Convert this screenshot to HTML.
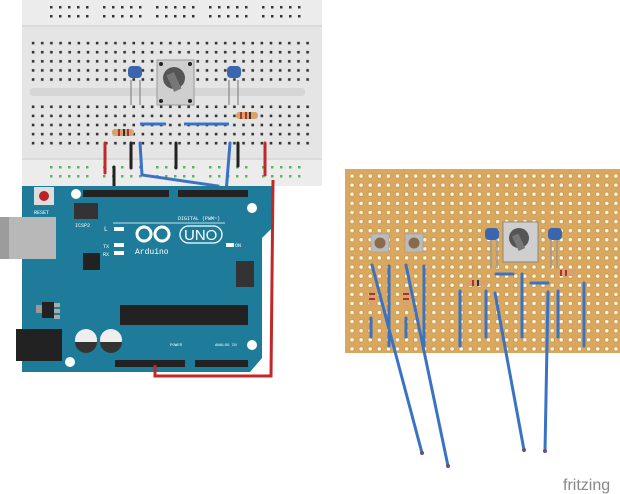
<!DOCTYPE html>
<html><head><meta charset="utf-8"><style>
html,body{margin:0;padding:0;background:#fff;width:620px;height:494px;overflow:hidden}
svg{display:block}
</style></head><body>
<svg width="620" height="494" viewBox="0 0 620 494" xmlns="http://www.w3.org/2000/svg">
<defs>
<pattern id="bbh" x="30" y="40" width="9.15" height="9.1" patternUnits="userSpaceOnUse">
<rect x="1.8" y="1.8" width="2.6" height="2.6" fill="#333"/></pattern>
<pattern id="pfh" x="347.5" y="171.5" width="9.1" height="9.1" patternUnits="userSpaceOnUse">
<circle cx="4.5" cy="4.5" r="2.7" fill="#c9964f"/><circle cx="4.5" cy="4.5" r="1.8" fill="#fdf6e4"/></pattern>
</defs>
<rect x="22" y="0" width="300" height="186" fill="#e5e5e5"/>
<rect x="22" y="0" width="300" height="25" fill="#ececec"/>
<rect x="22" y="160" width="300" height="26" fill="#ececec"/>
<line x1="22" y1="26" x2="322" y2="26" stroke="#cfcfcf" stroke-width="1"/>
<line x1="22" y1="159" x2="322" y2="159" stroke="#cfcfcf" stroke-width="1"/>
<rect x="30" y="88" width="275" height="8" rx="3" fill="#d6d6d6"/>
<rect x="31" y="40" width="280" height="45" fill="url(#bbh)"/>
<rect x="31" y="103" width="280" height="45" fill="url(#bbh)"/>
<g fill="#333">
<g id="rail">
<rect x="50" y="6" width="2.5" height="2.5"/><rect x="59" y="6" width="2.5" height="2.5"/><rect x="68" y="6" width="2.5" height="2.5"/><rect x="77" y="6" width="2.5" height="2.5"/><rect x="86" y="6" width="2.5" height="2.5"/>
<rect x="50" y="15" width="2.5" height="2.5"/><rect x="59" y="15" width="2.5" height="2.5"/><rect x="68" y="15" width="2.5" height="2.5"/><rect x="77" y="15" width="2.5" height="2.5"/><rect x="86" y="15" width="2.5" height="2.5"/>
</g>
<use href="#rail" x="53"/><use href="#rail" x="106"/><use href="#rail" x="159"/><use href="#rail" x="212"/>
</g>
<g fill="#3a3" opacity="0.8">
<use href="#rail" y="160"/><use href="#rail" x="53" y="160"/><use href="#rail" x="106" y="160"/><use href="#rail" x="159" y="160"/><use href="#rail" x="212" y="160"/>
</g>
<line x1="131" y1="80" x2="131" y2="105" stroke="#999" stroke-width="1.5"/><line x1="140" y1="80" x2="140" y2="105" stroke="#999" stroke-width="1.5"/>
<rect x="128" y="66" width="14" height="12" rx="4" fill="#3a66b0"/>
<line x1="229" y1="80" x2="229" y2="105" stroke="#999" stroke-width="1.5"/><line x1="238" y1="80" x2="238" y2="105" stroke="#999" stroke-width="1.5"/>
<rect x="227" y="66" width="14" height="12" rx="4" fill="#3a66b0"/>
<rect x="157" y="60" width="37" height="45" fill="#cfcfcf" stroke="#999"/>
<circle cx="174" cy="78" r="11" fill="#555"/><rect x="170" y="73" width="8" height="18" fill="#777" transform="rotate(-25 174 82)"/>
<circle cx="161" cy="64" r="2" fill="#222"/><circle cx="190" cy="64" r="2" fill="#222"/><circle cx="161" cy="101" r="2" fill="#222"/><circle cx="190" cy="101" r="2" fill="#222"/>
<rect x="112" y="129" width="22" height="7" rx="3" fill="#d8a36a"/><rect x="118" y="129" width="2" height="7" fill="#a33"/><rect x="123" y="129" width="2" height="7" fill="#333"/><rect x="127" y="129" width="2" height="7" fill="#a33"/>
<rect x="236" y="112" width="22" height="7" rx="3" fill="#d8a36a"/><rect x="240" y="112" width="2" height="7" fill="#a33"/><rect x="245" y="112" width="2" height="7" fill="#a33"/><rect x="249" y="112" width="2" height="7" fill="#333"/>
<line x1="140" y1="124" x2="166" y2="124" stroke="#3a72c4" stroke-width="3"/>
<line x1="184" y1="124" x2="229" y2="124" stroke="#3a72c4" stroke-width="3"/>
<g stroke-width="3" stroke-linecap="round" fill="none">
<line x1="105" y1="143" x2="105" y2="173" stroke="#c0282a"/>
<line x1="131" y1="143" x2="131" y2="168" stroke="#222"/>
<line x1="176" y1="143" x2="176" y2="168" stroke="#222"/>
<line x1="238" y1="143" x2="238" y2="166" stroke="#222"/>
<line x1="265" y1="143" x2="265" y2="175" stroke="#c0282a"/>
<line x1="114" y1="167" x2="114" y2="193" stroke="#222"/>
<polyline points="140,143 142,175 218,186 218,193" stroke="#3a72c4"/>
<polyline points="230,143 226,193" stroke="#3a72c4"/>
</g>
<path d="M22,186 L272,186 L272,228 L262,238 L262,358 L250,372 L22,372 Z" fill="#1e7c9a"/>
<rect x="0" y="217" width="56" height="42" fill="#b8b8b8"/><rect x="0" y="217" width="9" height="42" fill="#9c9c9c"/>
<rect x="16" y="329" width="46" height="32" fill="#222"/>
<rect x="34" y="187" width="20" height="18" fill="#ddd"/><circle cx="44" cy="196" r="5" fill="#b22"/>
<text x="34" y="214" font-family="Liberation Mono" font-size="5" fill="#fff">RESET</text>
<circle cx="76" cy="194" r="5" fill="#fff"/><circle cx="252" cy="208" r="5" fill="#fff"/><circle cx="252" cy="345" r="5" fill="#fff"/><circle cx="70" cy="362" r="5" fill="#fff"/>
<rect x="74" y="203" width="24" height="16" fill="#333"/>
<rect x="83" y="190" width="86" height="7" fill="#222"/><rect x="178" y="190" width="70" height="7" fill="#222"/>
<rect x="83" y="253" width="17" height="17" fill="#222"/>
<rect x="236" y="261" width="18" height="26" fill="#333"/>
<rect x="120" y="305" width="128" height="20" fill="#222"/>
<rect x="42" y="302" width="12" height="16" fill="#222"/><rect x="36" y="305" width="6" height="8" fill="#999"/><rect x="54" y="303" width="6" height="4" fill="#aaa"/><rect x="54" y="309" width="6" height="4" fill="#aaa"/><rect x="54" y="315" width="6" height="4" fill="#aaa"/>
<circle cx="86" cy="340" r="11" fill="#eee"/><path d="M75,342 A11,11 0 0,0 97,342 Z" fill="#333"/>
<circle cx="111" cy="340" r="11" fill="#eee"/><path d="M100,342 A11,11 0 0,0 122,342 Z" fill="#333"/>
<rect x="115" y="360" width="70" height="7" fill="#222"/><rect x="195" y="360" width="53" height="7" fill="#222"/>
<rect x="114" y="227" width="10" height="4" fill="#fff"/><rect x="114" y="243" width="10" height="4" fill="#fff"/><rect x="114" y="251" width="10" height="4" fill="#fff"/><rect x="226" y="243" width="8" height="4" fill="#fff"/>
<text x="104" y="231" font-family="Liberation Mono" font-size="6" fill="#fff">L</text>
<text x="103" y="248" font-family="Liberation Mono" font-size="5" fill="#fff">TX</text><text x="103" y="256" font-family="Liberation Mono" font-size="5" fill="#fff">RX</text>
<text x="235" y="247" font-family="Liberation Mono" font-size="5" fill="#fff">ON</text>
<text x="178" y="220" font-family="Liberation Mono" font-size="5" fill="#fff">DIGITAL (PWM~)</text>
<text x="75" y="227" font-family="Liberation Mono" font-size="5" fill="#fff">ICSP2</text>
<line x1="113" y1="223" x2="225" y2="223" stroke="#fff" stroke-width="0.8"/>
<circle cx="144" cy="234" r="7" fill="none" stroke="#fff" stroke-width="3"/><circle cx="162" cy="234" r="7" fill="none" stroke="#fff" stroke-width="3"/>
<rect x="180" y="226" width="42" height="17" rx="8.5" fill="none" stroke="#fff" stroke-width="1.3"/>
<text x="184" y="240" font-family="Liberation Sans" font-size="15" fill="#fff">UNO</text>
<text x="135" y="254" font-family="Liberation Mono" font-size="8" fill="#fff">Arduino</text>
<text x="170" y="346" font-family="Liberation Mono" font-size="4" fill="#fff">POWER</text><text x="215" y="346" font-family="Liberation Mono" font-size="4" fill="#fff">ANALOG IN</text>
<polyline points="273,180 271,376 155,376 155,365" stroke="#c0282a" stroke-width="3" fill="none"/>
<rect x="345" y="169" width="275" height="184" fill="#d9a85e"/>
<rect x="346" y="170" width="274" height="182" fill="url(#pfh)"/>
<g fill="#bbb" stroke="#999" stroke-width="0.5">
<rect x="371" y="234" width="18" height="18"/><rect x="405" y="234" width="18" height="18"/>
</g>
<circle cx="380" cy="243" r="5.5" fill="#8a6a4a"/><circle cx="414" cy="243" r="5.5" fill="#8a6a4a"/>
<line x1="491" y1="240" x2="491" y2="268" stroke="#999" stroke-width="1.5"/><line x1="497" y1="240" x2="497" y2="268" stroke="#999" stroke-width="1.5"/>
<rect x="485" y="228" width="14" height="12" rx="4" fill="#3a66b0"/>
<line x1="551" y1="240" x2="551" y2="268" stroke="#999" stroke-width="1.5"/><line x1="557" y1="240" x2="557" y2="268" stroke="#999" stroke-width="1.5"/>
<rect x="548" y="228" width="14" height="12" rx="4" fill="#3a66b0"/>
<rect x="503" y="222" width="35" height="40" fill="#cfcfcf" stroke="#888"/>
<circle cx="519" cy="238" r="10" fill="#555"/><rect x="515" y="234" width="7" height="16" fill="#777" transform="rotate(-25 519 242)"/>
<rect x="466" y="280" width="22" height="6" rx="2" fill="#d8a36a"/><rect x="472" y="280" width="2" height="6" fill="#a33"/><rect x="477" y="280" width="2" height="6" fill="#333"/>
<rect x="555" y="270" width="22" height="6" rx="2" fill="#d8a36a"/><rect x="560" y="270" width="2" height="6" fill="#a33"/><rect x="565" y="270" width="2" height="6" fill="#a33"/>
<rect x="369" y="288" width="6" height="20" rx="2" fill="#d8a36a"/><rect x="369" y="293" width="6" height="2" fill="#a33"/><rect x="369" y="298" width="6" height="2" fill="#a33"/>
<rect x="403" y="288" width="6" height="20" rx="2" fill="#d8a36a"/><rect x="403" y="293" width="6" height="2" fill="#a33"/><rect x="403" y="298" width="6" height="2" fill="#a33"/>
<g stroke="#3a72c4" stroke-width="3" stroke-linecap="round">
<line x1="371" y1="318" x2="371" y2="337"/><line x1="406" y1="318" x2="406" y2="337"/>
<line x1="389" y1="266" x2="389" y2="346"/><line x1="424" y1="266" x2="424" y2="346"/>
<line x1="460" y1="291" x2="460" y2="346"/><line x1="486" y1="291" x2="486" y2="337"/>
<line x1="496" y1="274" x2="513" y2="274"/><line x1="522" y1="274" x2="522" y2="337"/>
<line x1="531" y1="283" x2="548" y2="283"/><line x1="558" y1="291" x2="558" y2="337"/>
<line x1="584" y1="283" x2="584" y2="346"/>
<line x1="372" y1="265" x2="422" y2="453"/>
<line x1="406" y1="265" x2="448" y2="466"/>
<line x1="495" y1="293" x2="524" y2="450"/>
<line x1="548" y1="292" x2="545" y2="451"/>
</g>
<g fill="#7a4a6a"><circle cx="422" cy="453" r="2"/><circle cx="448" cy="466" r="2"/><circle cx="524" cy="450" r="2"/><circle cx="545" cy="451" r="2"/></g>
<text x="563" y="490" font-family="Liberation Sans" font-size="16" fill="#888">fritzing</text>
</svg>
</body></html>
